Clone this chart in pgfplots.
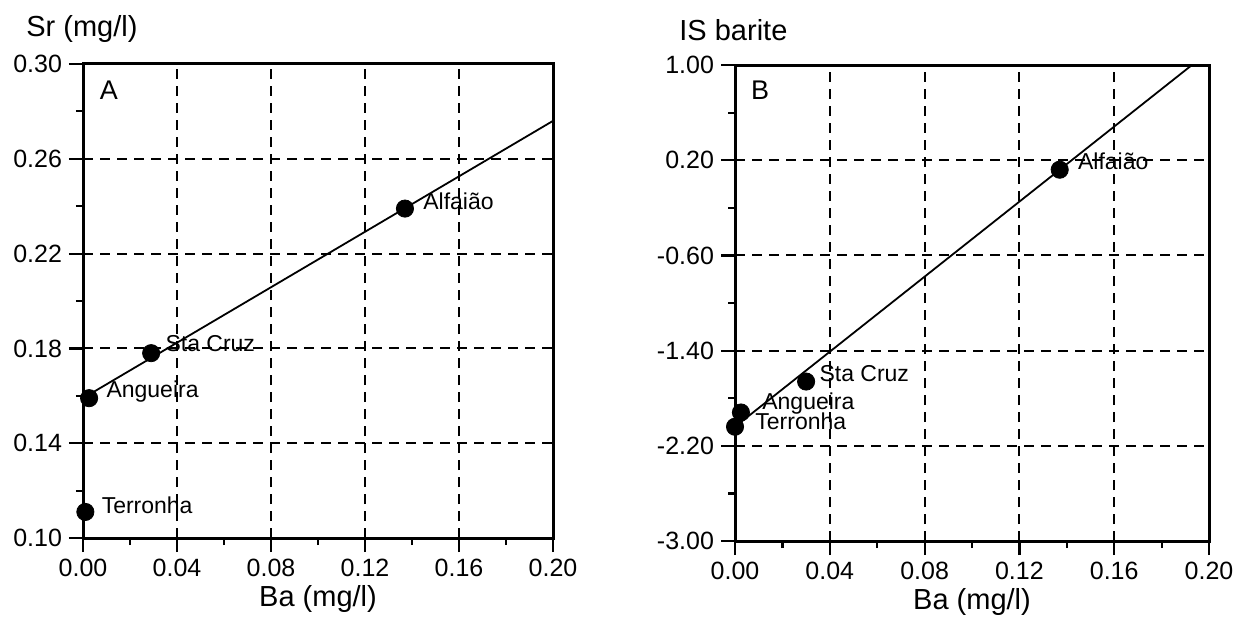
\documentclass[border=0pt]{standalone}
\usepackage{fontspec}
\setmainfont{Liberation Sans}
\usepackage{pgfplots}
\pgfplotsset{compat=1.18}
\tikzset{lbl/.style={anchor=west, inner sep=0pt, font=\fontsize{11.5}{13}\selectfont}}
\pgfplotsset{
  common/.style={
    scale only axis,
    tick align=outside,
    xtick pos=left, ytick pos=left,
    minor tick num=1,
    major tick length=7pt,
    minor tick length=3.5pt,
    grid=major,
    major grid style={black, line width=1pt, dash pattern=on 5pt off 3.5pt},
    axis line style={line width=1.5pt},
    every tick/.style={black, line width=1.1pt},
    tick label style={font=\fontsize{12.5}{14}\selectfont},
    /pgf/number format/.cd, fixed, fixed zerofill, precision=2, assume math mode=true,
    /pgfplots/.cd,
    xmin=0, xmax=0.2, xtick={0,0.04,0.08,0.12,0.16,0.2},
    scaled ticks=false,
    xlabel={Ba (mg/l)},
    xlabel style={font=\fontsize{14.5}{16}\selectfont, at={(axis description cs:0.5,0)}, anchor=center, yshift=-30.5pt},
  },
  pt/.style={only marks, mark=*, mark size=4.3pt, black},
}
\begin{document}
\begin{tikzpicture}[x=1pt,y=1pt]
\path[use as bounding box] (0,0) rectangle (617,308);
% Panel A
\begin{axis}[common, at={(41.5pt,39pt)}, anchor=south west, width=235pt, height=237pt,
  ymin=0.10, ymax=0.30, ytick={0.10,0.14,0.18,0.22,0.26,0.30}]
\addplot[black, line width=0.9pt] coordinates {(0,0.159) (0.2,0.276)};
\addplot[pt] coordinates {(0.001,0.111) (0.0026,0.159) (0.029,0.178) (0.137,0.239)};
\node[lbl, xshift=8pt, yshift=3.5pt] at (axis cs:0.001,0.111) {Terronha};
\node[lbl, xshift=8.5pt, yshift=3.5pt] at (axis cs:0.0026,0.159) {Angueira};
\node[lbl, xshift=7pt, yshift=5pt] at (axis cs:0.029,0.178) {Sta Cruz};
\node[lbl, xshift=9pt, yshift=3.5pt] at (axis cs:0.137,0.239) {Alfaião};
\node[font=\fontsize{13.5}{15}\selectfont] at (rel axis cs:0.055,0.945) {A};
\end{axis}
% Panel B
\begin{axis}[common, at={(367.5pt,37.5pt)}, anchor=south west, width=237pt, height=238pt,
  ymin=-3, ymax=1, ytick={-3,-2.2,-1.4,-0.6,0.2,1}]
\addplot[black, line width=0.9pt] coordinates {(0,-2.04) (0.1928,1.0)};
\addplot[pt] coordinates {(0.0,-2.04) (0.0025,-1.92) (0.030,-1.66) (0.137,0.12)};
\node[lbl, xshift=10pt, yshift=2.5pt] at (axis cs:0.0,-2.04) {Terronha};
\node[lbl, xshift=10.5pt, yshift=4.5pt] at (axis cs:0.0025,-1.92) {Angueira};
\node[lbl, xshift=6.5pt, yshift=4pt] at (axis cs:0.030,-1.66) {Sta Cruz};
\node[lbl, xshift=9pt, yshift=4pt] at (axis cs:0.137,0.12) {Alfaião};
\node[font=\fontsize{13.5}{15}\selectfont] at (rel axis cs:0.053,0.947) {B};
\end{axis}
\node[anchor=west, inner sep=0pt, font=\fontsize{14.5}{16}\selectfont] at (13pt,293.5pt) {Sr (mg/l)};
\node[anchor=west, inner sep=0pt, font=\fontsize{14.5}{16}\selectfont] at (339.5pt,293pt) {IS barite};
\end{tikzpicture}
\end{document}
